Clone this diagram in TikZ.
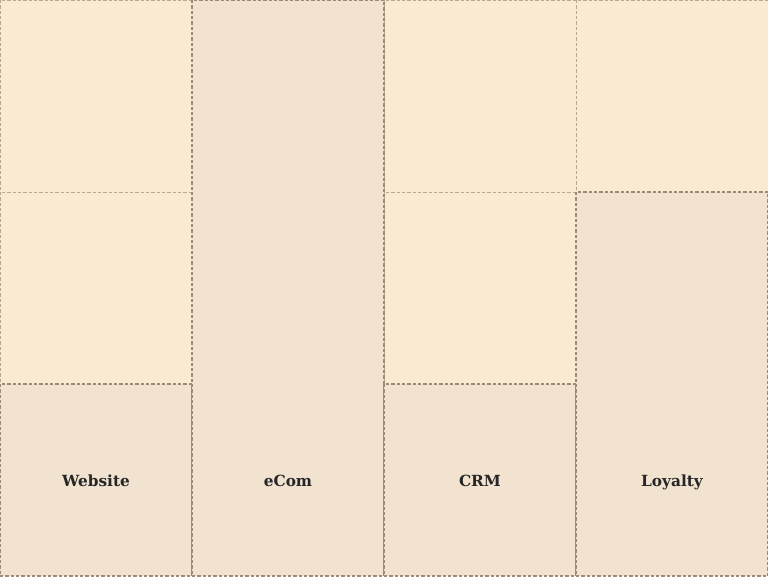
\documentclass[tikz,border=0pt]{standalone}
\usepackage{fontspec}
\newfontfamily\slab{DejaVu Serif}
\definecolor{cellA}{HTML}{FAEAD1}
\definecolor{cellB}{HTML}{F2E2D0}
\definecolor{edgeA}{HTML}{B8A88E}
\definecolor{edgeB}{HTML}{9C8B70}
\tikzset{
  yell/.style={fill=cellA, draw=edgeA, dash pattern=on 2.5pt off 1.5pt, line width=0.6pt},
  beig/.style={fill=cellB, draw=edgeB, dash pattern=on 2.5pt off 1.5pt, line width=0.8pt},
  lbl/.style={font=\slab\bfseries\fontsize{11.5}{14}\selectfont, text=black!85, anchor=base}
}
\begin{document}
\begin{tikzpicture}[x=0.75pt,y=-0.75pt]
\useasboundingbox (0,0) rectangle (768,577);
% yellow cells
\draw[yell] (0,0) rectangle (192,192);
\draw[yell] (0,192) rectangle (192,384);
\draw[yell] (384,0) rectangle (576,192);
\draw[yell] (384,192) rectangle (576,384);
\draw[yell] (576,0) rectangle (768,192);
% beige cells
\draw[beig] (0,384) rectangle (192,576);
\draw[beig] (192,0) rectangle (384,576);
\draw[beig] (384,384) rectangle (576,576);
\draw[beig] (576,192) rectangle (768,576);
\node[lbl] (website) at (96,486) {Website};
\node[lbl] (ecom) at (288,486) {eCom};
\node[lbl] (crm) at (480,486) {CRM};
\node[lbl] (loyalty) at (672,486) {Loyalty};
\end{tikzpicture}
\end{document}
